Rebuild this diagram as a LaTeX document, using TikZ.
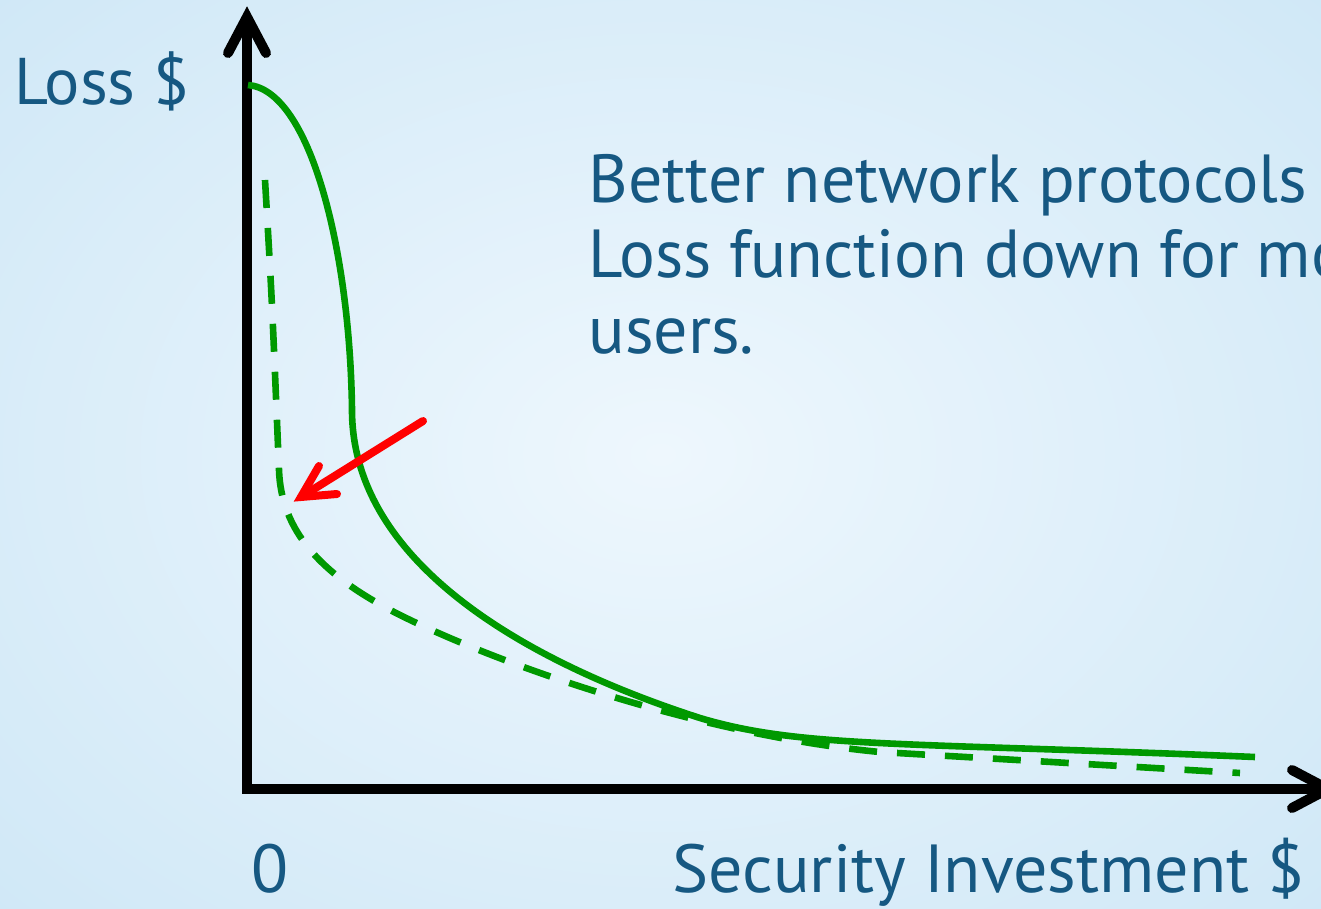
\documentclass[tikz,border=0pt]{standalone}
\usepackage{fontspec}
\setmainfont{PT Sans}
\definecolor{txtblue}{RGB}{22,88,130}
\definecolor{curvegreen}{RGB}{0,153,0}
\definecolor{bgedge}{RGB}{204,230,246}
\definecolor{bgmid}{RGB}{238,247,253}
\begin{document}
\begin{tikzpicture}[x=0.5pt,y=-0.5pt,
  lbl/.style={text=txtblue,font=\fontsize{34}{40}\selectfont,inner sep=0pt},
  axis/.style={line width=5pt,line cap=round,line join=miter,miter limit=10},
  lossline/.style={curvegreen,line width=3.3pt},
  pointer/.style={red,line width=4pt,line cap=round,line join=miter}]
  % canvas and background
  \useasboundingbox (0,0) rectangle (1321,909);
  \clip (0,0) rectangle (1321,909);
  \shade[inner color=bgmid,outer color=bgedge] (-380,-300) rectangle (1701,1209);

  % axes
  \coordinate (origin) at (247,789);
  \coordinate (ytip) at (247,17);
  \coordinate (xtip) at (1328,789);
  \draw[axis,line cap=butt] (ytip) -- (origin) -- (xtip);
  \draw[axis] (228,53) -- (ytip) -- (266,53);
  \draw[axis] (1292,770) -- (xtip) -- (1292,808);

  % loss curve, before
  \draw[lossline] (248,85) .. controls (310,90) and (350,250) .. (352,410)
    .. controls (352,560) and (520,660) .. (700,718)
    .. controls (800,748) and (900,742) .. (1255,757);

  % loss curve, after
  \draw[lossline,dash pattern=on 14pt off 10pt] (265,180) .. controls (272,300) .. (279,470)
    .. controls (281,530) and (320,575) .. (400,615)
    .. controls (500,665) and (700,735) .. (880,752) -- (1240,773);

  % red pointer
  \coordinate (pstart) at (423,421);
  \coordinate (ptip) at (301,497);
  \draw[pointer] (pstart) -- (ptip);
  \draw[pointer] (319,466) -- (ptip) -- (337,494);

  % labels
  \node[lbl,anchor=base west,font=\fontsize{33}{40}\selectfont] (ylab) at (14,105) {Loss \$};
  \node[lbl,anchor=base west] (zero) at (251,892) {0};
  \node[lbl,anchor=base east] (xlab) at (1305,892) {Security Investment \$};
  \node[lbl,anchor=base west] (t1) at (588,203) {Better network protocols};
  \node[lbl,anchor=base west,xscale=0.985] (t2) at (588,278) {Loss function down for more};
  \node[lbl,anchor=base west] (t3) at (588,353) {users.};
\end{tikzpicture}
\end{document}
